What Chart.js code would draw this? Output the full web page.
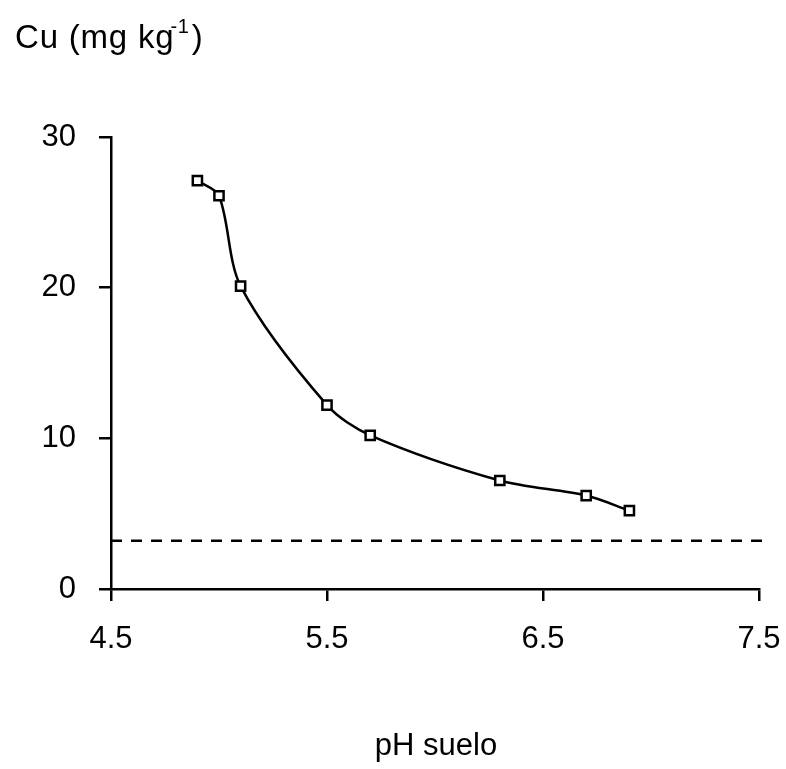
<!DOCTYPE html>
<html>
<head>
<meta charset="utf-8">
<script src="https://cdn.jsdelivr.net/npm/chart.js@4/dist/chart.umd.min.js"></script>
<style>
  html, body { margin: 0; padding: 0; background: #fff; }
  #grafico { display: block; }
</style>
</head>
<body>
<canvas id="grafico" width="786" height="769"></canvas>
<script>
/* Cu extraível vs pH do solo */
const phSuelo = [4.9, 5.0, 5.1, 5.5, 5.7, 6.3, 6.7, 6.9];
const cuValores = [27.1, 26.1, 20.1, 12.2, 10.2, 7.2, 6.2, 5.2];
const nivelCritico = 3.2;
const limiteX = [4.5, 7.55];            // extensão da linha tracejada
const ticksX = [4.5, 5.5, 6.5, 7.5];
const ticksY = [0, 10, 20, 30];

const FONTE = '"Liberation Sans", Arial, sans-serif';

// títulos desenhados à mão (o do eixo Y fica horizontal no topo)
const titulos = {
  id: 'titulos',
  afterDraw(chart) {
    const ctx = chart.ctx;
    ctx.save();
    ctx.fillStyle = '#000';
    ctx.textBaseline = 'alphabetic';
    ctx.textAlign = 'left';
    ctx.letterSpacing = '0.8px';
    ctx.font = '33px ' + FONTE;
    let x = 15;
    const base = 48;
    const t1 = 'Cu (mg kg';
    ctx.fillText(t1, x, base);
    x += ctx.measureText(t1).width;
    ctx.font = '20px ' + FONTE;
    ctx.fillText('-1', x - 4, base - 15);
    x += ctx.measureText('-1').width - 2;
    ctx.font = '33px ' + FONTE;
    ctx.fillText(')', x, base);

    ctx.letterSpacing = '0px';
    ctx.textAlign = 'center';
    ctx.font = '31px ' + FONTE;
    ctx.fillText('pH suelo', 436, 755);
    ctx.restore();
  }
};

new Chart(document.getElementById('grafico'), {
  type: 'scatter',
  data: {
    datasets: [
      {
        data: phSuelo.map((x, i) => ({ x, y: cuValores[i] })),
        showLine: true,
        borderColor: '#000', borderWidth: 2.5,
        tension: 0.3,
        pointStyle: 'rect', pointRadius: 6.5, pointBorderWidth: 2.5,
        pointBackgroundColor: '#fff', pointBorderColor: '#000'
      },
      {
        data: limiteX.map(x => ({ x, y: nivelCritico })),
        showLine: true, clip: false,
        borderColor: '#000', borderWidth: 2.5, borderDash: [11, 9],
        pointRadius: 0
      }
    ]
  },
  options: {
    responsive: false, animation: false,
    layout: { padding: { left: 0, right: 27, top: 137, bottom: 0 } },
    plugins: { legend: { display: false }, tooltip: { enabled: false } },
    scales: {
      x: {
        type: 'linear', min: 4.5, max: 7.5,
        afterBuildTicks: s => { s.ticks = ticksX.map(v => ({ value: v })); },
        afterFit: s => { s.height = 180; s.paddingLeft = 0; s.paddingRight = 0; },
        border: { display: true, color: '#000', width: 2.5 },
        grid: { display: true, drawOnChartArea: false, drawTicks: true, tickLength: 12, color: '#000', lineWidth: 2.5 },
        ticks: { color: '#000', font: { family: FONTE, size: 31 }, padding: 20 }
      },
      y: {
        min: 0, max: 30,
        afterBuildTicks: s => { s.ticks = ticksY.map(v => ({ value: v })); },
        afterFit: s => { s.width = 111; s.paddingTop = 0; s.paddingBottom = 0; },
        border: { display: true, color: '#000', width: 2.5 },
        grid: { display: true, drawOnChartArea: false, drawTicks: true, tickLength: 12, color: '#000', lineWidth: 2.5 },
        ticks: { color: '#000', font: { family: FONTE, size: 31 }, padding: 23 }
      }
    }
  },
  plugins: [titulos]
});
</script>
</body>
</html>
